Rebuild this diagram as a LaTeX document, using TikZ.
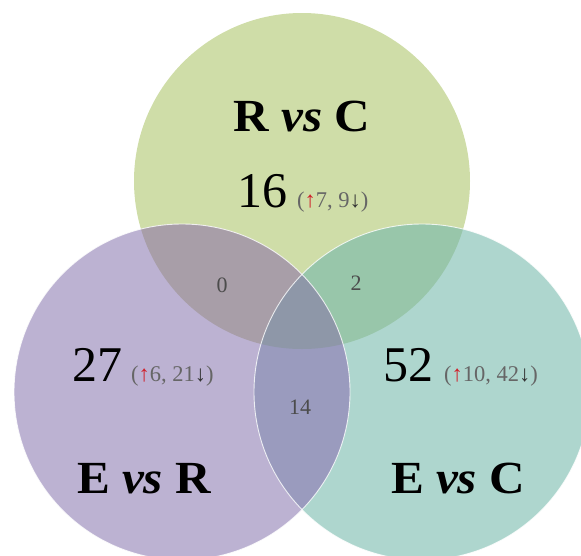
\documentclass[tikz,border=0pt]{standalone}
\usepackage{fontspec}
\setmainfont{Liberation Serif}
\begin{document}
\begin{tikzpicture}[x=1pt,y=-1pt,
  big/.style={font=\fontsize{46}{50}\selectfont\bfseries, text=black, inner sep=0pt, xscale=1.07},
  num/.style={font=\fontsize{50}{54}\selectfont, text=black, inner sep=0pt},
  sm/.style={font=\fontsize{22.5}{24}\selectfont, text=black!60, inner sep=0pt},
  mid/.style={font=\fontsize{22}{24}\selectfont, text=black!70, inner sep=0pt},
  edge/.style={draw=white, line width=0.9pt, draw opacity=0.8}]
\definecolor{cG}{HTML}{CFDDA8}
\definecolor{cP}{HTML}{BCB2D2}
\definecolor{cT}{HTML}{AED6CE}
\definecolor{cGP}{HTML}{A89EA8}
\definecolor{cGT}{HTML}{98C6AA}
\definecolor{cPT}{HTML}{9A9BBE}
\definecolor{cAll}{HTML}{8E97A8}
\definecolor{upred}{HTML}{D0202A}
\useasboundingbox (0,0) rectangle (581,555);
\coordinate (T) at (302,181);
\coordinate (L) at (182,392);
\coordinate (R) at (422,392);
\fill[cG] (T) circle[radius=168pt];
\fill[cP] (L) circle[radius=168pt];
\fill[cT] (R) circle[radius=168pt];
\begin{scope}
  \clip (T) circle[radius=168pt];
  \fill[cGP] (L) circle[radius=168pt];
  \fill[cGT] (R) circle[radius=168pt];
\end{scope}
\begin{scope}
  \clip (L) circle[radius=168pt];
  \fill[cPT] (R) circle[radius=168pt];
\end{scope}
\begin{scope}
  \clip (T) circle[radius=168pt];
  \clip (L) circle[radius=168pt];
  \fill[cAll] (R) circle[radius=168pt];
\end{scope}
\draw[edge] (L) circle[radius=168pt];
\draw[edge] (R) circle[radius=168pt];
\node[big, anchor=base] (rc) at (302,131) {R \textit{vs} C};
\node[num, anchor=base west] (n16) at (237,207) {16};
\node[sm, anchor=base west] (s16) at (297,207) {({\color{upred}↑}7, 9{\color{black!80}↓})};
\node[num, anchor=base west] (n27) at (72,381) {27};
\node[sm, anchor=base west] (s27) at (131,381) {({\color{upred}↑}6, 21{\color{black!80}↓})};
\node[num, anchor=base west] (n52) at (383,381) {52};
\node[sm, anchor=base west] (s52) at (444,381) {({\color{upred}↑}10, 42{\color{black!80}↓})};
\node[big, anchor=base] (er) at (144,493) {E \textit{vs} R};
\node[big, anchor=base] (ec) at (458,493) {E \textit{vs} C};
\node[mid] (z0) at (222,285) {0};
\node[mid] (z2) at (356,283) {2};
\node[mid] (z14) at (300,407) {14};
\end{tikzpicture}
\end{document}
